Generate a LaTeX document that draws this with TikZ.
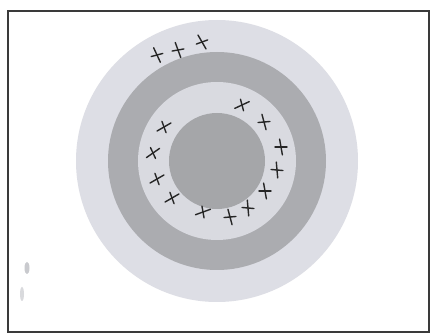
\documentclass[tikz,border=0pt]{standalone}
\usepackage{tikz}
\usepackage{xcolor}
\definecolor{ringpale}{HTML}{DDDEE5}
\definecolor{ringdark}{HTML}{ABACB0}
\definecolor{ringlight}{HTML}{D9DAE0}
\definecolor{coregray}{HTML}{A5A6A9}
\definecolor{framegray}{HTML}{3A3A3A}
\definecolor{smudge}{HTML}{C9CACE}

\begin{document}
\begin{tikzpicture}[x=1pt,y=-1pt,
  markx/.style={line width=1.4pt,line cap=round,black!85}]
  \useasboundingbox (0,0) rectangle (432,334);
  \fill[white] (0,0) rectangle (432,334);
  \draw[line width=1.2pt,framegray] (8,11) rectangle (429,332);

  % target rings
  \coordinate (c) at (217,161);
  \fill[ringpale] (c) circle[radius=141];
  \fill[ringdark] (c) circle[radius=109];
  \fill[ringlight] (c) circle[radius=79];
  \fill[coregray] (c) circle[radius=48];

  % scan smudges on the left
  \fill[smudge] (27,268) ellipse[x radius=2.5,y radius=6];
  \fill[smudge!70] (22,294) ellipse[x radius=2,y radius=7];

  % hand drawn crosses: x / y / angle of the long stroke
  \foreach \px/\py/\a in {157/55/65, 178/50/70, 202/42/60,
      242/105/-25, 264/122/75, 281/147/80, 277/170/85, 265/191/80,
      248/208/85, 230/217/75, 203/212/-20, 172/198/-30, 157/179/-30,
      153/153/-35, 164/127/-30}
  {
    \draw[markx] (\px,\py) ++(\a:8) -- ++({\a+180}:16);
    \draw[markx] (\px,\py) ++({\a+100}:6) -- ++({\a+280}:12);
  }
\end{tikzpicture}
\end{document}
